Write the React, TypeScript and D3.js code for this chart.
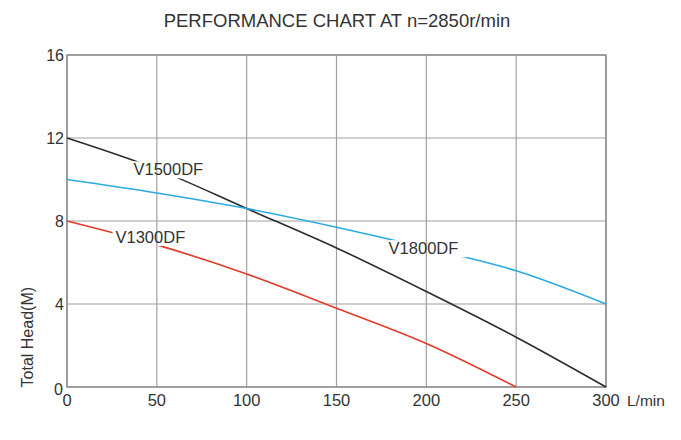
import * as d3 from "d3";

const WIDTH = 681;
const HEIGHT = 440;
const MARGIN = { top: 55, right: 75, bottom: 53, left: 67 };

const flows = [0, 50, 100, 150, 200, 250, 300];
const v1500 = [12, 10.5, 8.6, 6.7, 4.6, 2.4, 0];
const v1800 = [10, 9.35, 8.6, 7.7, 6.7, 5.6, 4.0];
const redFlows = [0, 50, 100, 150, 200, 250];
const v1300 = [8, 6.85, 5.45, 3.8, 2.1, 0];

const xTicks = [0, 50, 100, 150, 200, 250, 300];
const yTicks = [0, 4, 8, 12, 16];

const series = [
  { name: "V1500DF", xs: flows, ys: v1500, color: "#2b2b2b", lx: 37, ly: 10.2, lw: 71 },
  { name: "V1800DF", xs: flows, ys: v1800, color: "#2aaae2", lx: 179, ly: 6.4, lw: 75 },
  { name: "V1300DF", xs: redFlows, ys: v1300, color: "#e23b2a", lx: 27, ly: 6.94, lw: 75 },
];

const FONT = "'Liberation Sans', Arial, sans-serif";

export default function App() {
  const boundsWidth = WIDTH - MARGIN.left - MARGIN.right;
  const boundsHeight = HEIGHT - MARGIN.top - MARGIN.bottom;

  const xScale = d3.scaleLinear().domain([0, 300]).range([0, boundsWidth]);
  const yScale = d3.scaleLinear().domain([0, 16]).range([boundsHeight, 0]);

  const line = d3
    .line<[number, number]>()
    .x((d) => xScale(d[0]))
    .y((d) => yScale(d[1]))
    .curve(d3.curveMonotoneX);

  return (
    <svg width={WIDTH} height={HEIGHT} style={{ position: "absolute", left: 0, top: 0 }}>
      <rect width={WIDTH} height={HEIGHT} fill="#fff" />
      <text
        x={337}
        y={27}
        textAnchor="middle"
        fontFamily={FONT}
        fontSize={18.5}
        fill="#333"
      >
        PERFORMANCE CHART AT n=2850r/min
      </text>
      <g transform={`translate(${MARGIN.left}, ${MARGIN.top})`}>
        <defs>
          <mask id="labelGaps">
            <rect x={-10} y={-10} width={boundsWidth + 20} height={boundsHeight + 20} fill="#fff" />
            {series.map((s) => (
              <rect
                key={s.name}
                x={xScale(s.lx) - 3}
                y={yScale(s.ly) - 14}
                width={s.lw + 6}
                height={17}
                fill="#000"
              />
            ))}
          </mask>
        </defs>
        {xTicks.map((t) => (
          <line
            key={"gx" + t}
            x1={xScale(t)}
            x2={xScale(t)}
            y1={0}
            y2={boundsHeight}
            stroke="#a0a0a0"
            strokeWidth={1.2}
          />
        ))}
        {yTicks.map((t) => (
          <line
            key={"gy" + t}
            x1={0}
            x2={boundsWidth}
            y1={yScale(t)}
            y2={yScale(t)}
            stroke="#a0a0a0"
            strokeWidth={1.2}
          />
        ))}
        <rect
          x={0}
          y={0}
          width={boundsWidth}
          height={boundsHeight}
          fill="none"
          stroke="#8a8a8a"
          strokeWidth={1.4}
        />
        <g mask="url(#labelGaps)">
          {series.map((s) => (
            <path
              key={s.name}
              d={line(s.xs.map((x, i) => [x, s.ys[i]] as [number, number])) || ""}
              fill="none"
              stroke={s.color}
              strokeWidth={1.6}
            />
          ))}
        </g>
        {series.map((s) => (
          <text
            key={"l" + s.name}
            x={xScale(s.lx)}
            y={yScale(s.ly)}
            fontFamily={FONT}
            fontSize={16.5}
            fill="#333"
          >
            {s.name}
          </text>
        ))}
        {yTicks.map((t) => (
          <text
            key={"ty" + t}
            x={t === 0 ? -4 : -3}
            y={yScale(t) + (t === 0 ? 2 : 0)}
            textAnchor="end"
            dominantBaseline="central"
            fontFamily={FONT}
            fontSize={16}
            fill="#333"
          >
            {t}
          </text>
        ))}
        {xTicks.map((t) => (
          <text
            key={"tx" + t}
            x={xScale(t)}
            y={boundsHeight + 13}
            textAnchor="middle"
            dominantBaseline="central"
            fontFamily={FONT}
            fontSize={16.5}
            fill="#333"
          >
            {t}
          </text>
        ))}
        <text
          x={boundsWidth + 21}
          y={boundsHeight + 13}
          dominantBaseline="central"
          fontFamily={FONT}
          fontSize={15.5}
          fill="#333"
        >
          L/min
        </text>
        <text
          transform={`translate(${-40}, ${yScale(2.4)}) rotate(-90)`}
          textAnchor="middle"
          dominantBaseline="central"
          fontFamily={FONT}
          fontSize={16}
          fill="#333"
        >
          Total Head(M)
        </text>
      </g>
    </svg>
  );
}
